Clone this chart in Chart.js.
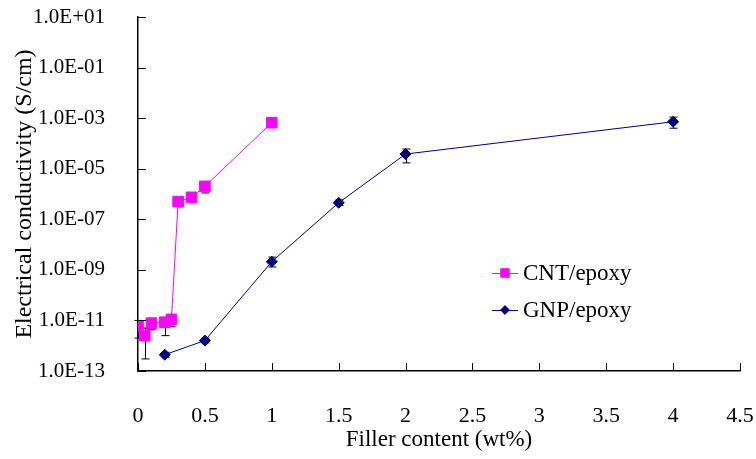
<!DOCTYPE html>
<html>
<head>
<meta charset="utf-8">
<script src="https://cdn.jsdelivr.net/npm/chart.js@4/dist/chart.umd.min.js"></script>
<style>
  html, body { margin: 0; padding: 0; background: #fff; }
  #wrap { width: 756px; height: 459px; }
</style>
</head>
<body>
<div id="wrap"><canvas id="myChart" width="756" height="459"></canvas></div>
<script>
// data
var cntX = [0, 0.05, 0.1, 0.2, 0.25, 0.3, 0.4, 0.5, 1.0];
var cntY = [6e-12, 2.5e-12, 7.8e-12, 8.5e-12, 1.1e-11, 5e-7, 7.4e-7, 2e-6, 6.6e-4];
var cntErrLow = [2e-12, 3e-13, 4.3e-12, 2.5e-12, 5.6e-12, 4e-7, 6e-7, 1.1e-6, 5.5e-4];
var cntErrHigh = [1e-11, 5e-12, 1.2e-11, 1.3e-11, 1.6e-11, 6e-7, 9e-7, 3e-6, 8e-4];

var gnpX = [0.2, 0.5, 1.0, 1.5, 2.0, 4.0];
var gnpY = [4.4e-13, 1.6e-12, 2.1e-9, 4.5e-7, 3.8e-5, 7.2e-4];
var gnpErrLow = [3.5e-13, 1.3e-12, 1.3e-9, 3.5e-7, 1.7e-5, 4e-4];
var gnpErrHigh = [5.5e-13, 2e-12, 3.2e-9, 5.8e-7, 6e-5, 1.1e-3];

var xTickLabels = ['0', '0.5', '1', '1.5', '2', '2.5', '3', '3.5', '4', '4.5'];
var yTickValues = [1e-13, 1e-11, 1e-9, 1e-7, 1e-5, 1e-3, 1e-1, 1e1];
var yTickLabels = ['1.0E-13', '1.0E-11', '1.0E-09', '1.0E-07', '1.0E-05', '1.0E-03', '1.0E-01', '1.0E+01'];

var seriesNames = ['CNT/epoxy', 'GNP/epoxy'];
var FONT = '"Liberation Serif", "Times New Roman", serif';

function toPoints(xs, ys) {
    return xs.map(function (x, i) { return { x: x, y: ys[i] }; });
}

// error bars, drawn through the scales
var errorBars = {
    id: 'errorBars',
    beforeDatasetsDraw: function (chart) {
        var ctx = chart.ctx;
        var xs = chart.scales.x, ys = chart.scales.y;
        var sets = [[cntX, cntErrLow, cntErrHigh], [gnpX, gnpErrLow, gnpErrHigh]];
        ctx.save();
        ctx.strokeStyle = '#000';
        ctx.lineWidth = 1;
        sets.forEach(function (s) {
            s[0].forEach(function (x, i) {
                var px = Math.round(xs.getPixelForValue(x)) + 0.5;
                var lo = ys.getPixelForValue(s[1][i]);
                var hi = ys.getPixelForValue(s[2][i]);
                ctx.beginPath();
                ctx.moveTo(px, lo); ctx.lineTo(px, hi);
                ctx.moveTo(px - 4, lo); ctx.lineTo(px + 4, lo);
                ctx.moveTo(px - 4, hi); ctx.lineTo(px + 4, hi);
                ctx.stroke();
            });
        });
        ctx.restore();
    }
};

// inward tick marks and legend box inside the plot
var decorations = {
    id: 'decorations',
    afterDraw: function (chart) {
        var ctx = chart.ctx;
        var a = chart.chartArea;
        var xs = chart.scales.x, ys = chart.scales.y;
        ctx.save();
        ctx.strokeStyle = '#000';
        ctx.lineWidth = 1;
        ctx.beginPath();
        xs.ticks.forEach(function (t) {
            var px = Math.round(xs.getPixelForValue(t.value)) + 0.5;
            ctx.moveTo(px, a.bottom); ctx.lineTo(px, a.bottom - 8);
        });
        ys.ticks.forEach(function (t) {
            var py = Math.round(ys.getPixelForValue(t.value)) + 0.5;
            ctx.moveTo(a.left, py); ctx.lineTo(a.left + 8, py);
        });
        ctx.stroke();

        // legend
        var ds = chart.data.datasets;
        var lx = 492, ly = [273, 310];
        ctx.font = '23px ' + FONT;
        ctx.textBaseline = 'middle';
        ds.forEach(function (d, i) {
            ctx.strokeStyle = d.borderColor;
            ctx.lineWidth = 1;
            ctx.beginPath();
            ctx.moveTo(lx, ly[i] + 0.5); ctx.lineTo(lx + 26, ly[i] + 0.5);
            ctx.stroke();
            ctx.fillStyle = d.pointBackgroundColor;
            ctx.strokeStyle = d.pointBorderColor;
            Chart.helpers.drawPoint(ctx, {
                pointStyle: d.pointStyle, radius: d.pointRadius * 0.8, borderWidth: 1
            }, lx + 13, ly[i]);
            ctx.fillStyle = '#000';
            ctx.fillText(seriesNames[i], lx + 31, ly[i] + 1);
        });
        ctx.restore();
    }
};

var ctx = document.getElementById('myChart').getContext('2d');
var myChart = new Chart(ctx, {
    type: 'scatter',
    data: {
        datasets: [{
            label: seriesNames[0],
            data: toPoints(cntX, cntY),
            showLine: true,
            borderColor: '#FF00FF',
            backgroundColor: '#FF00FF',
            pointBackgroundColor: '#FF00FF',
            pointBorderColor: '#FF00FF',
            borderWidth: 1,
            pointStyle: 'rect',
            pointRadius: 7.5,
            pointBorderWidth: 1
        }, {
            label: seriesNames[1],
            data: toPoints(gnpX, gnpY),
            showLine: true,
            borderColor: '#000080',
            backgroundColor: '#000080',
            pointBackgroundColor: '#000080',
            pointBorderColor: '#000080',
            borderWidth: 1,
            pointStyle: 'rectRot',
            pointRadius: 5.5,
            pointBorderWidth: 1
        }]
    },
    options: {
        responsive: false,
        animation: false,
        layout: { padding: { left: 0, right: 16, top: 17, bottom: 0 } },
        plugins: {
            legend: { display: false },
            tooltip: { enabled: false }
        },
        scales: {
            x: {
                type: 'linear',
                min: 0,
                max: 4.5,
                ticks: {
                    stepSize: 0.5,
                    color: '#000',
                    padding: 24,
                    font: { family: FONT, size: 22 },
                    callback: function (value, index) { return xTickLabels[index]; }
                },
                grid: { display: false },
                border: { display: true, color: '#000', width: 1.5 },
                title: {
                    display: true,
                    text: 'Filler content (wt%)',
                    color: '#000',
                    font: { family: FONT, size: 23 },
                    padding: { top: 0, bottom: 5 }
                },
                afterFit: function (scale) {
                    scale.height = 88;
                    scale.paddingLeft = 0;
                    scale.paddingRight = 0;
                }
            },
            y: {
                type: 'logarithmic',
                min: 1e-13,
                max: 1e1,
                afterBuildTicks: function (scale) {
                    scale.ticks = yTickValues.map(function (v) { return { value: v }; });
                },
                ticks: {
                    color: '#000',
                    padding: 25,
                    font: { family: FONT, size: 21 },
                    callback: function (value, index) { return yTickLabels[index]; }
                },
                grid: { display: false },
                border: { display: true, color: '#000', width: 1.5 },
                title: {
                    display: true,
                    text: 'Electrical conductivity (S/cm)',
                    color: '#000',
                    font: { family: FONT, size: 24 },
                    padding: { top: 10, bottom: 0 }
                },
                afterFit: function (scale) {
                    scale.width = 138;
                    scale.paddingTop = 0;
                    scale.paddingBottom = 0;
                }
            }
        }
    },
    plugins: [errorBars, decorations]
});
</script>
</body>
</html>
